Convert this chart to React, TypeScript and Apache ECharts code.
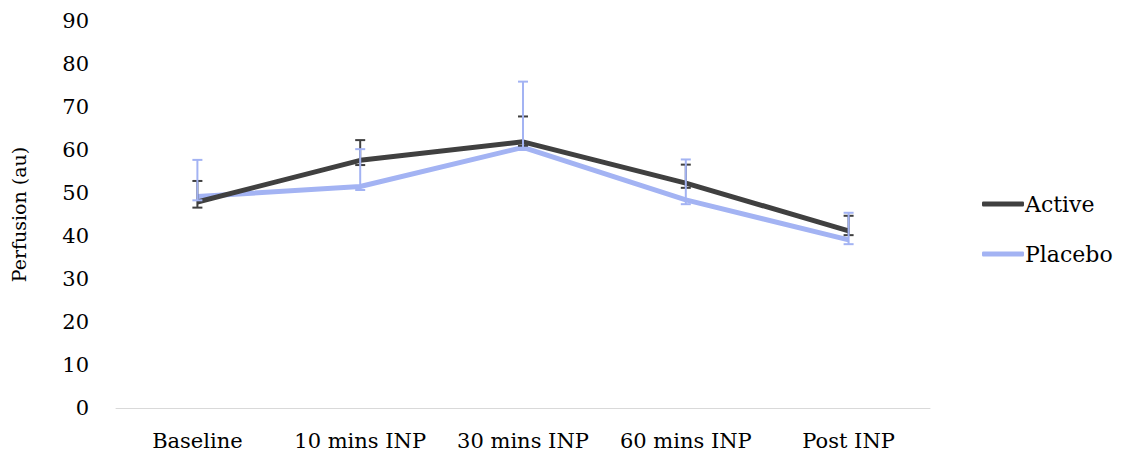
import React, { useEffect, useRef } from "react";
import * as echarts from "echarts";

const categories = ["Baseline", "10 mins INP", "30 mins INP", "60 mins INP", "Post INP"];
const active = [47.9, 57.6, 61.9, 52.3, 41.2];
const placebo = [49.2, 51.5, 60.6, 48.4, 39.1];
const activeUpper = [52.8, 62.3, 67.8, 56.6, 44.7];
const activeLower = [46.6, 56.5, 61.0, 51.2, 40.2];
const placeboUpper = [57.7, 60.2, 75.9, 57.8, 45.4];
const placeboLower = [48.3, 50.7, 60.0, 47.4, 38.1];

const FONT = "DejaVu Serif";
const DARK = "#404040";
const BLUE = "#a3b3f3";

function errorSeries(name: string, lows: number[], highs: number[], color: string, z: number) {
  return {
    type: "custom",
    name: name + " err",
    z,
    renderItem: (params: any, api: any) => {
      const x = api.value(0);
      const lo = api.coord([x, api.value(1)]);
      const hi = api.coord([x, api.value(2)]);
      const w = 5;
      const style = { stroke: color, lineWidth: 2 };
      return {
        type: "group",
        children: [
          { type: "line", shape: { x1: lo[0], y1: lo[1], x2: hi[0], y2: hi[1] }, style },
          { type: "line", shape: { x1: hi[0] - w, y1: hi[1], x2: hi[0] + w, y2: hi[1] }, style },
          { type: "line", shape: { x1: lo[0] - w, y1: lo[1], x2: lo[0] + w, y2: lo[1] }, style },
        ],
      };
    },
    data: categories.map((_, i) => [i, lows[i], highs[i]]),
    silent: true,
  };
}

export default function App() {
  const ref = useRef<HTMLDivElement>(null);
  useEffect(() => {
    const chart = echarts.init(ref.current!, null, { renderer: "svg" });
    chart.setOption({
      animation: false,
      backgroundColor: "#ffffff",
      textStyle: { fontFamily: FONT },
      grid: { left: 116, right: 191, top: 21, bottom: 47 },
      legend: {
        orient: "vertical",
        left: 977,
        top: 188,
        itemWidth: 42,
        itemHeight: 5,
        itemGap: 28,
        icon: "roundRect",
        textStyle: { fontFamily: FONT, fontSize: 22, color: "#000", padding: [0, 0, 0, -4] },
        data: [
          { name: "Active", itemStyle: { color: DARK } },
          { name: "Placebo", itemStyle: { color: BLUE } },
        ],
      },
      xAxis: {
        type: "category",
        data: categories,
        axisTick: { show: false },
        axisLine: { lineStyle: { color: "#d9d9d9", width: 1 } },
        axisLabel: { fontFamily: FONT, fontSize: 21, color: "#000", margin: 22, interval: 0 },
      },
      yAxis: {
        type: "value",
        min: 0,
        max: 90,
        interval: 10,
        splitLine: { show: false },
        axisLine: { show: false },
        axisTick: { show: false },
        axisLabel: { fontFamily: FONT, fontSize: 21, color: "#000", margin: 27 },
        name: "Perfusion (au)",
        nameLocation: "middle",
        nameGap: 88,
        nameTextStyle: { fontFamily: FONT, fontSize: 19, color: "#000" },
      },
      series: [
        {
          name: "Placebo",
          type: "line",
          data: placebo,
          symbol: "none",
          lineStyle: { color: BLUE, width: 5 },
          itemStyle: { color: BLUE },
          z: 2,
        },
        {
          name: "Active",
          type: "line",
          data: active,
          symbol: "none",
          lineStyle: { color: DARK, width: 5 },
          itemStyle: { color: DARK },
          z: 3,
        },
        errorSeries("Active", activeLower, activeUpper, DARK, 5),
        errorSeries("Placebo", placeboLower, placeboUpper, BLUE, 6),
      ],
    });
    return () => chart.dispose();
  }, []);
  return (
    <div
      ref={ref}
      style={{ position: "fixed", left: 0, top: 0, width: 1121, height: 455 }}
    />
  );
}
